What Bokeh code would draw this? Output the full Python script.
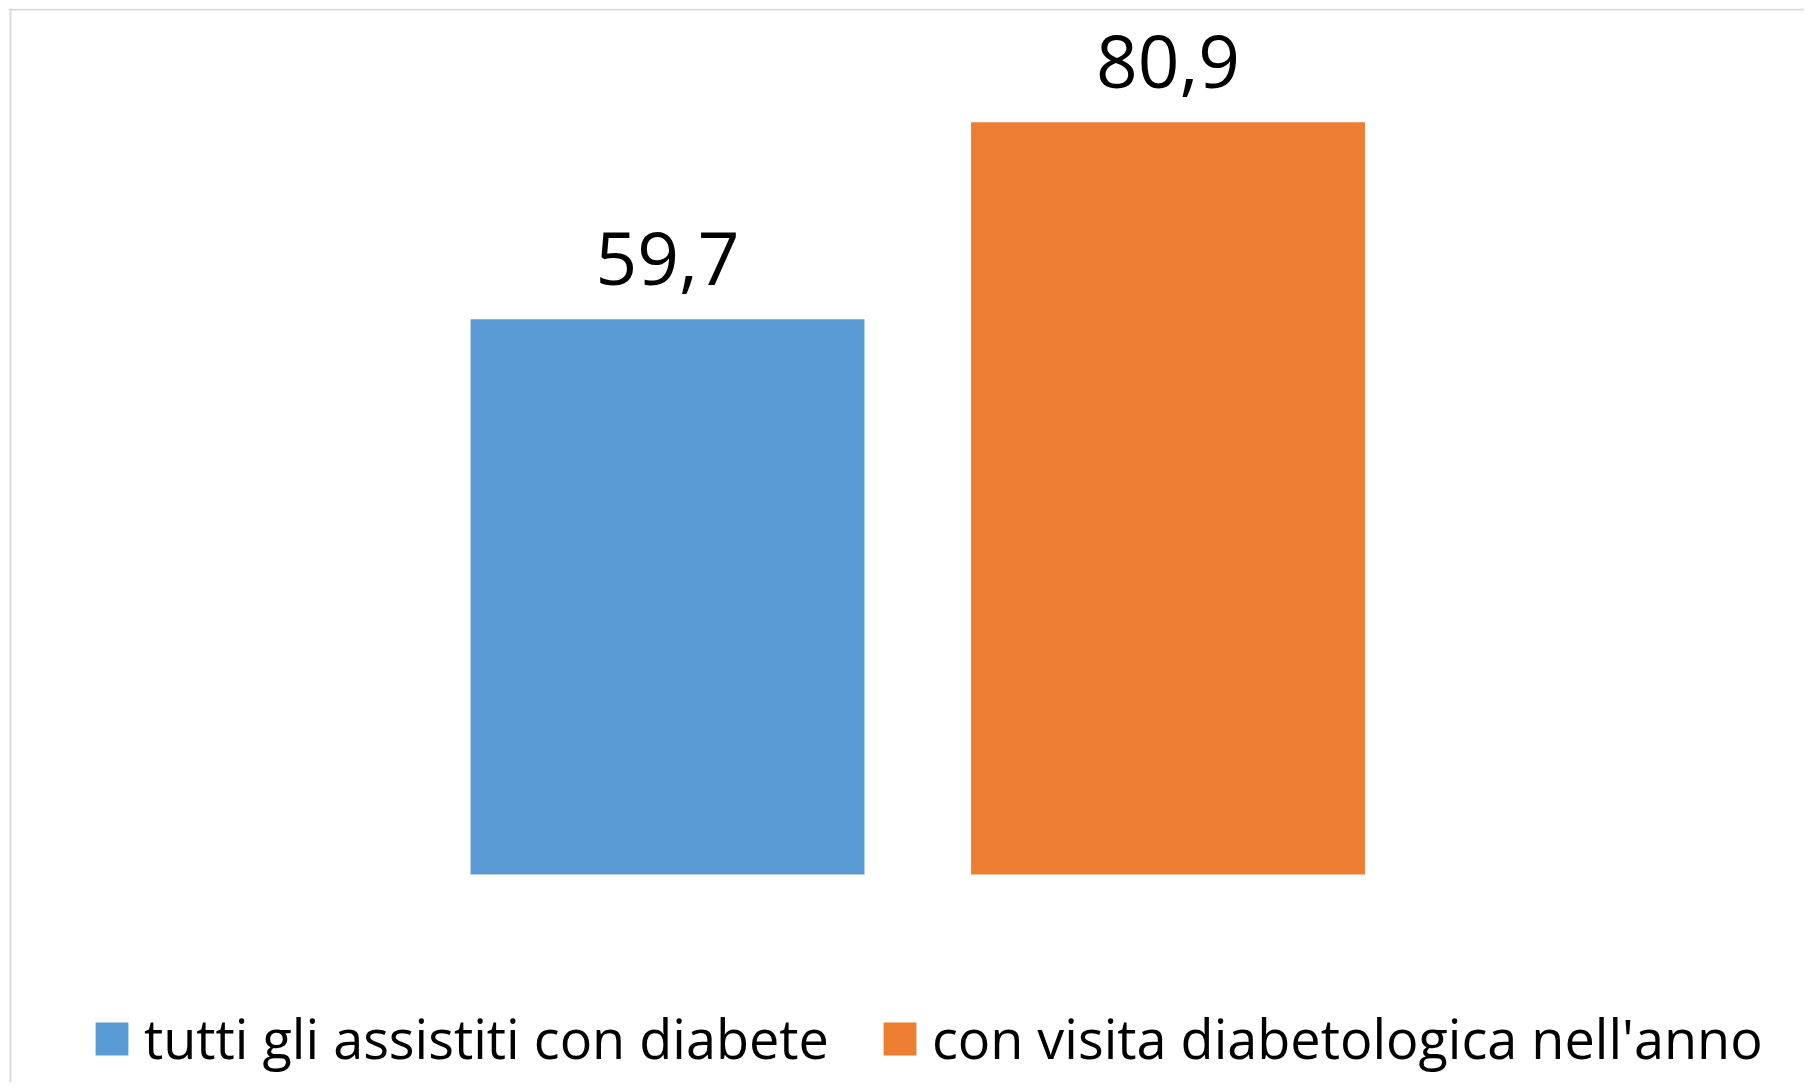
from bokeh.plotting import figure
from bokeh.models import ColumnDataSource, Range1d, Legend, LegendItem, Span
from bokeh.core.properties import value
from bokeh.embed import file_html
from bokeh.resources import INLINE

categories = ["tutti gli assistiti con diabete", "con visita diabetologica nell'anno"]
values = [59.7, 80.9]
colors = ["#5B9BD5", "#ED7D31"]
labels = [f"{v:.1f}".replace(".", ",") for v in values]
positions = list(range(len(categories)))

W, H = 1804, 1082
X0, X1 = -1.3167, 2.2717
Y0, Y1 = -22.37, 93.12
p = figure(width=W, height=H, output_backend="svg", toolbar_location=None,
           x_range=Range1d(X0, X1), y_range=Range1d(Y0, Y1),
           min_border=0, min_border_left=8, min_border_right=0,
           min_border_top=8, min_border_bottom=0)
p.axis.visible = False
p.grid.visible = False
p.outline_line_color = None
p.background_fill_color = "white"
p.border_fill_color = "white"

src = ColumnDataSource(dict(x=positions, top=values, color=colors, label=labels, cat=categories))
bars = p.vbar(x="x", top="top", bottom=0, width=0.787, color="color", line_color=None, source=src)

p.text(x="x", y="top", text="label", source=src, text_align="center", text_baseline="alphabetic",
       y_offset=-61, text_font=value("Open Sans"), text_font_size="73px", text_color="black")

# chart border (top and left visible)
p.add_layout(Span(location=Y1 - 0.1, dimension="width", line_color="#D9D9D9", line_width=2))
p.add_layout(Span(location=X0 + 0.004, dimension="height", line_color="#D9D9D9", line_width=2))

items = [LegendItem(label=categories[i], renderers=[bars], index=i) for i in range(len(categories))]
legend = Legend(items=items, orientation="horizontal", location=(83, 7),
                glyph_width=41, glyph_height=41, label_standoff=12, spacing=50,
                padding=0, margin=0, border_line_color=None, background_fill_alpha=0,
                label_text_font="Open Sans", label_text_font_size="54px", label_text_color="black")
p.add_layout(legend, "center")

open("out.html", "w").write(file_html(p, INLINE))
